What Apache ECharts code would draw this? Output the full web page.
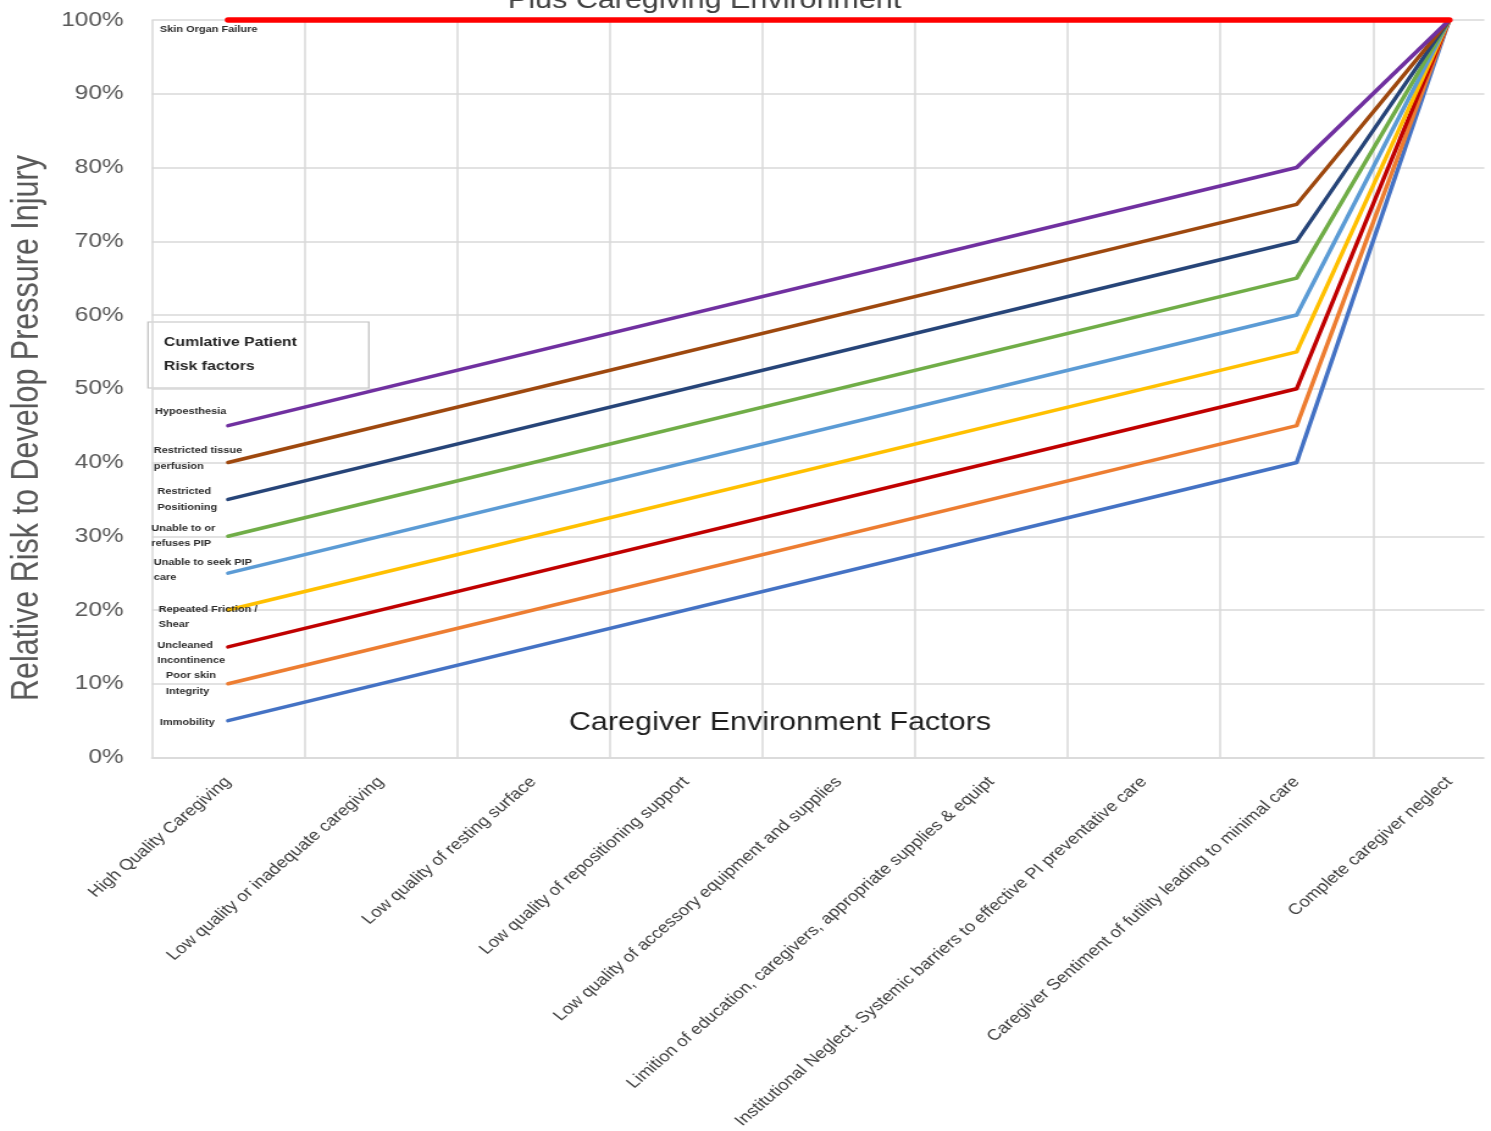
<!DOCTYPE html>
<html>
<head>
<meta charset="utf-8">
<script src="https://cdn.jsdelivr.net/npm/echarts@6/dist/echarts.min.js"></script>
<style>
  html, body { margin: 0; padding: 0; background: #fff; overflow: hidden; width: 1491px; height: 1131px; }
  /* the chart is laid out narrower and widened horizontally, like the original slide graphic */
  #main { width: 1270px; height: 1131px; transform: scaleX(1.22013); transform-origin: 0 0; }
</style>
</head>
<body>
<div id="main"></div>
<script>
// Caregiver environment stages along the horizontal axis
const categories = [
  'High Quality Caregiving',
  'Low quality or inadequate caregiving',
  'Low quality of resting surface',
  'Low quality of repositioning support',
  'Low quality of accessory equipment and supplies',
  'Limition of education, caregivers, appropriate supplies & equipt',
  'Institutional Neglect. Systemic barriers to effective PI preventative care',
  'Caregiver Sentiment of futility leading to minimal care',
  'Complete caregiver neglect'
];

// Relative risk (%) per cumulative patient risk factor; null = no point at that stage
const immobility          = [5,   null, null, null, null, null, null, 40,  100];
const poorSkinIntegrity   = [10,  null, null, null, null, null, null, 45,  100];
const uncleanedIncont     = [15,  null, null, null, null, null, null, 50,  100];
const frictionShear       = [20,  null, null, null, null, null, null, 55,  100];
const unableSeekCare      = [25,  null, null, null, null, null, null, 60,  100];
const refusesPIP          = [30,  null, null, null, null, null, null, 65,  100];
const restrictedPosition  = [35,  null, null, null, null, null, null, 70,  100];
const restrictedPerfusion = [40,  null, null, null, null, null, null, 75,  100];
const hypoesthesia        = [45,  null, null, null, null, null, null, 80,  100];
const skinOrganFailure    = [100, null, null, null, null, null, null, 100, 100];

// Series names (as printed next to each line start)
const factorNames = [
  'Immobility',
  'Poor skin\nIntegrity',
  'Uncleaned\nIncontinence',
  'Repeated Friction /\nShear',
  'Unable to seek PIP\ncare',
  'Unable to or\nrefuses PIP',
  'Restricted\nPositioning',
  'Restricted tissue\nperfusion',
  'Hypoesthesia',
  'Skin Organ Failure'
];
const factorValues = [
  immobility, poorSkinIntegrity, uncleanedIncont, frictionShear, unableSeekCare,
  refusesPIP, restrictedPosition, restrictedPerfusion, hypoesthesia, skinOrganFailure
];

// y-axis ticks
const yMin = 0, yMax = 100, yStep = 10;

// ---- styling ----
const lineColors = [
  '#4472C4', '#ED7D31', '#C00000', '#FFC000', '#5B9BD5',
  '#70AD47', '#264478', '#9E480E', '#7030A0', '#FF0000'
];
// label placement relative to each line's first point [dx, dy]
const labelOffsets = [
  [-56, 2], [-51, 0], [-58, 6], [-57, 7], [-61, -3],
  [-63, 0], [-58, 0], [-61, -4], [-60, -14], [-56, 10]
];
const FONT = '"Liberation Sans", Arial, sans-serif';

const series = factorNames.map((name, i) => {
  const isRed = i === factorNames.length - 1;
  return {
    name: name,
    type: 'line',
    connectNulls: true,
    clip: false,
    silent: true,
    symbol: 'circle',
    symbolSize: 0,
    showSymbol: true,
    z: 2 + i,
    lineStyle: { color: lineColors[i], width: isRed ? 5.5 : 3.5, cap: 'round', join: 'round' },
    itemStyle: { color: lineColors[i] },
    data: factorValues[i].map((v, j) => j === 0 ? {
      value: v,
      label: {
        show: true,
        position: 'inside',
        offset: labelOffsets[i],
        align: 'left',
        verticalAlign: 'middle',
        formatter: name,
        fontFamily: FONT,
        fontSize: 9,
        fontWeight: 'bold',
        lineHeight: 15.5,
        color: '#2b2b2b'
      }
    } : v)
  };
});

const chart = echarts.init(document.getElementById('main'), null, { renderer: 'canvas' });
chart.setOption({
  animation: false,
  backgroundColor: '#ffffff',
  grid: { left: 124.4, top: 20, width: 1126, bottom: 373, containLabel: false },
  xAxis: {
    type: 'category',
    data: categories,
    boundaryGap: true,
    axisLine: { show: true, lineStyle: { color: '#d9d9d9', width: 1.5 } },
    axisTick: { show: false },
    splitLine: { show: true, interval: 0, lineStyle: { color: '#d9d9d9', width: 1.5 } },
    axisLabel: {
      interval: 0,
      rotate: 46,
      margin: 22,
      fontFamily: FONT,
      fontSize: 15.3,
      color: '#404040'
    }
  },
  yAxis: {
    type: 'value',
    min: yMin,
    max: yMax,
    interval: yStep,
    axisLine: { show: false },
    axisTick: { show: false },
    splitLine: { show: true, lineStyle: { color: '#d9d9d9', width: 1.5 } },
    axisLabel: {
      formatter: '{value}%',
      margin: 23,
      fontFamily: FONT,
      fontSize: 20,
      color: '#595959'
    }
  },
  graphic: [
    {
      type: 'text', z: 50,
      style: {
        text: 'Plus Caregiving Environment', x: 577.5, y: 1,
        align: 'center', verticalAlign: 'middle',
        font: '25px ' + FONT, fill: '#404040'
      }
    },
    {
      // vertical axis title
      type: 'text', z: 50, x: 23, y: 428, rotation: Math.PI / 2,
      style: {
        text: 'Relative Risk to Develop Pressure Injury', x: 0, y: 0,
        align: 'center', verticalAlign: 'middle',
        font: '30.5px ' + FONT, fill: '#595959'
      }
    },
    {
      type: 'text', z: 50,
      style: {
        text: 'Caregiver Environment Factors', x: 639.3, y: 723,
        align: 'center', verticalAlign: 'middle',
        font: '25px ' + FONT, fill: '#1f1f1f'
      }
    },
    {
      type: 'group', z: 60, x: 121.3, y: 322,
      children: [
        {
          type: 'rect',
          shape: { x: 0, y: 0, width: 181, height: 66 },
          style: { fill: '#ffffff', stroke: '#bfbfbf', lineWidth: 1.2 }
        },
        {
          type: 'text',
          style: {
            text: 'Cumlative Patient\nRisk factors', x: 13, y: 32,
            align: 'left', verticalAlign: 'middle', lineHeight: 24,
            font: 'bold 13px ' + FONT, fill: '#262626'
          }
        }
      ]
    },
    {
      // plot area ends short of the canvas edge
      type: 'rect', z: 40,
      shape: { x: 1216.5, y: 0, width: 60, height: 770 },
      style: { fill: '#ffffff' }
    }
  ],
  series: series
});
</script>
</body>
</html>
